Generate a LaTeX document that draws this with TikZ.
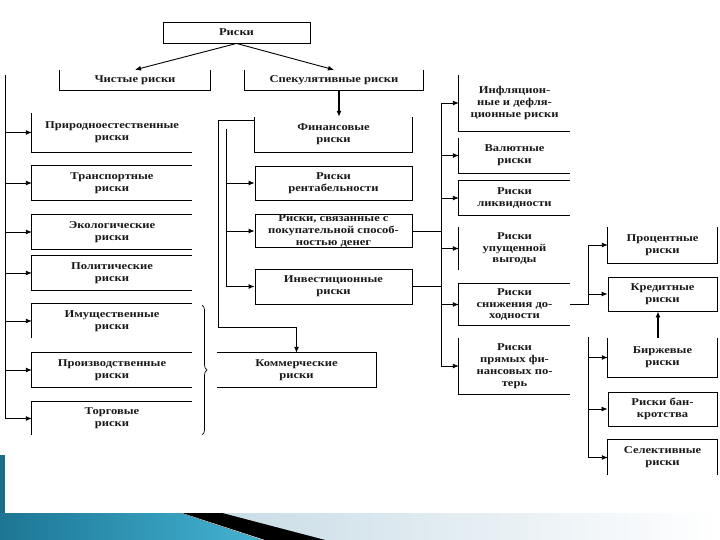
\documentclass[tikz,border=0pt]{standalone}
\usepackage{fontspec}
\setmainfont{Liberation Serif}[FakeStretch=1.2]
\usetikzlibrary{arrows.meta,calc,decorations.pathreplacing}
\definecolor{tealA}{HTML}{1C7694}
\definecolor{tealB}{HTML}{45B3D3}
\definecolor{tealC}{HTML}{1B6D8A}
\definecolor{paleB}{HTML}{C9DCE6}
\begin{document}
\begin{tikzpicture}[x=1bp,y=-1bp,
  every node/.style={font=\fontsize{10.5}{12}\selectfont\bfseries, align=center, inner sep=0pt, text=black!90},
  bx/.style 2 args={minimum width=#1bp, minimum height=#2bp},
  full/.style={draw, line width=0.9bp},
  ln/.style={line width=0.9bp, black},
  arr/.style={ln, -{Latex[length=6bp,width=5bp]}},
  brc/.style={line width=0.7bp, decorate, decoration={brace, amplitude=5bp}}]
\useasboundingbox (0,0) rectangle (720,540);
\fill[white] (0,0) rectangle (720,540);

% ---------- top ----------
\node[bx={147}{21}, full] (R) at (236.5,32.5) {Риски};
\node[bx={150}{20}] (CH) at (135,80) {Чистые риски};
\node[bx={178}{20}] (SP) at (334,80) {Спекулятивные риски};
\draw[ln] (CH.north west) -- (CH.south west) -- (CH.south east) -- (CH.north east);
\draw[ln] (SP.north west) -- (SP.south west) -- (SP.south east) -- (SP.north east);
\draw[arr] (R.south) -- (CH.north);
\draw[arr] (R.south) -- (SP.north);

% ---------- left column ----------
\node[bx={160}{39}] (L1) at (112,132.5) {Природноестественные\\риски};
\node[bx={160}{34}] (L2) at (112,183) {Транспортные\\риски};
\node[bx={160}{34}] (L3) at (112,232) {Экологические\\риски};
\node[bx={160}{34}] (L4) at (112,273) {Политические\\риски};
\node[bx={160}{34}] (L5) at (112,321) {Имущественные\\риски};
\node[bx={160}{34}] (L6) at (112,370) {Производственные\\риски};
\node[bx={160}{33}] (L7) at (112,418.5) {Торговые\\риски};
\draw[ln] (L1.north west) -- (L1.south west) -- (L1.south east);
\foreach \n in {L2,L3,L4,L6}
  \draw[ln] (\n.north east) -- (\n.north west) -- (\n.south west) -- (\n.south east);
\foreach \n in {L5,L7}
  \draw[ln] (\n.north east) -- (\n.north west) -- (\n.south west);
\coordinate (lt) at (5,75);
\draw[ln] (lt) -- (lt |- L7.west);
\foreach \n in {L1,L2,L3,L4,L5,L6,L7}
  \draw[arr] (lt |- \n.west) -- (\n.west);
\draw[brc] (202,305) -- (202,435);

% ---------- middle column ----------
\node[bx={157}{35}] (FI) at (333.5,134.5) {Финансовые\\риски};
\node[bx={157}{34}, full] (RE) at (333.5,183) {Риски\\рентабельности};
\node[bx={157}{32}, full] (SV) at (333.5,231) {Риски, связанные с\\покупательной способ-\\ностью денег};
\node[bx={157}{35}, full] (IN) at (333.5,286.5) {Инвестиционные\\риски};
\node[bx={159}{34}] (KO) at (296.5,370) {Коммерческие\\риски};
\draw[ln] (FI.north west) -- (FI.south west) -- (FI.south east) -- (FI.north east);
\draw[ln] (KO.north west) -- (KO.north east) -- (KO.south east) -- (KO.south west);
\draw[arr, line width=1.6bp] (SP.south -| 339,0) -- (FI.north -| 339,0);
\coordinate (oc) at (218,327);
\draw[arr] ($(FI.north west)+(0,4)$) -| (oc) -| (KO.north);
\coordinate (ic) at (226,129);
\draw[ln] (ic) -- (ic |- IN.west);
\foreach \n in {RE,SV,IN}
  \draw[arr] (ic |- \n.west) -- (\n.west);

% ---------- right column 1 ----------
\node[bx={111}{56}] (A1) at (514.5,103) {Инфляцион-\\ные и дефля-\\ционные риски};
\node[bx={111}{35}] (A2) at (514.5,155.5) {Валютные\\риски};
\node[bx={111}{34}] (A3) at (514.5,198) {Риски\\ликвидности};
\node[bx={111}{43}] (A4) at (514.5,248.5) {Риски\\упущенной\\выгоды};
\node[bx={111}{41}] (A5) at (514.5,304.5) {Риски\\снижения до-\\ходности};
\node[bx={111}{56}] (A6) at (514.5,366) {Риски\\прямых фи-\\нансовых по-\\терь};
\foreach \n in {A1,A2,A6}
  \draw[ln] (\n.north west) -- (\n.south west) -- (\n.south east);
\foreach \n in {A3,A5}
  \draw[ln] (\n.north east) -- (\n.north west) -- (\n.south west) -- (\n.south east);
\draw[ln] (A4.north west) -- (A4.south west);
\coordinate (rc) at (441,0);
\draw[ln] (rc |- A1.west) -- (rc |- A6.west);
\foreach \n in {A1,A2,A3,A4,A5,A6}
  \draw[arr] (rc |- \n.west) -- (\n.west);
\draw[ln] (SV.east) -- (SV.east -| rc);
\draw[ln] (IN.east) -- (IN.east -| rc);

% ---------- right column 2 ----------
\node[bx={109}{36}] (B1) at (662.5,245) {Процентные\\риски};
\node[bx={109}{34}, full] (B2) at (662.5,294) {Кредитные\\риски};
\node[bx={109}{39}] (B3) at (662.5,357.5) {Биржевые\\риски};
\node[bx={109}{34}, full] (B4) at (662.5,409) {Риски бан-\\кротства};
\node[bx={109}{35}] (B5) at (662.5,457.5) {Селективные\\риски};
\foreach \n in {B1,B3}
  \draw[ln] (\n.north west) -- (\n.south west) -- (\n.south east) -- (\n.north east);
\draw[ln] (B5.south west) -- (B5.north west) -- (B5.north east) -- (B5.south east);
\coordinate (jc) at (588,0);
\draw[arr] (A5.east) -| (jc |- B1.west) -- (B1.west);
\draw[arr] (B2.west -| jc) -- (B2.west);
\draw[arr, line width=1.3bp] (B3.north -| 658,0) -- (B2.south -| 658,0);
\coordinate (jt) at (588,337);
\draw[ln] ($(A6.east)+(0,12)$) -- ($(A6.east)+(0,12)$ -| jt);
\draw[ln] (jt) -- (jt |- B5.west);
\foreach \n in {B3,B4,B5}
  \draw[arr] (jt |- \n.west) -- (\n.west);

% ---------- slide decoration ----------
\fill[left color=paleB, middle color=white, right color=white] (222,513) -- (720,513) -- (720,540) -- (325,540) -- cycle;
\fill[tealC] (0,455) rectangle (5,513);
\fill[left color=tealA, right color=tealB] (0,513) -- (180,513) -- (262,540) -- (0,540) -- cycle;
\fill[black] (182,513) -- (222,513) -- (325,540) -- (265,540) -- cycle;
\end{tikzpicture}
\end{document}
